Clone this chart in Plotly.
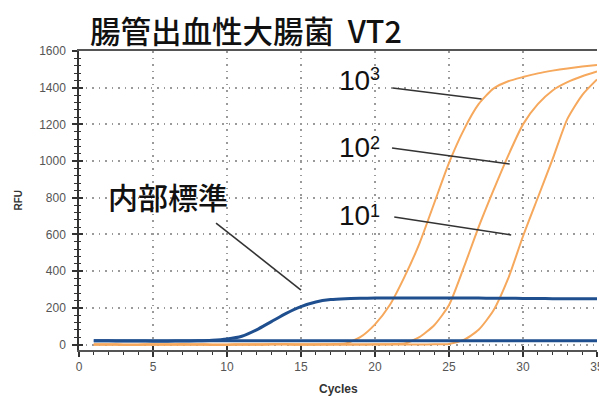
import plotly.graph_objects as go

cycles = list(range(1, 36))

# RFU values per cycle
internal_std = [20, 20, 19, 19, 18, 18, 19, 20, 23, 30, 45, 80, 125, 170, 207, 232, 245, 250,
                252, 253, 253, 253, 254, 254, 254, 253, 253, 252, 252, 251, 251, 250, 250, 249, 249]
negative = [21, 21, 21, 21, 21, 21, 21, 21, 21, 21, 21, 21, 21, 21, 21, 21, 21, 21,
             21, 21, 21, 21, 21, 21, 21, 21, 21, 21, 21, 21, 21, 21, 21, 21, 21]
copies_1e3 = [0, 0, -1, -1, 0, 0, 1, 0, -1, -1, 0, 0, 1, 1, 0, 0, 2, 5,
              40, 110, 215, 370, 550, 770, 990, 1170, 1310, 1395, 1435, 1458, 1478, 1493, 1505, 1515, 1524]
copies_1e2 = [0, 0, -1, -1, 0, 0, 1, 0, -1, -1, 0, 0, 1, 1, 0, 0, 0, 0,
              0, 1, 2, 5, 40, 105, 215, 420, 640, 840, 1030, 1200, 1310, 1385, 1430, 1462, 1488]
copies_1e1 = [0, 0, -1, -1, 0, 0, 1, 0, -1, -1, 0, 0, 1, 1, 0, 0, 0, 0,
              0, 0, 0, 0, 0, 1, 3, 25, 80, 185, 360, 590, 800, 1010, 1230, 1360, 1445]

x_ticks = [0, 5, 10, 15, 20, 25, 30, 35]
y_ticks = [0, 200, 400, 600, 800, 1000, 1200, 1400, 1600]

title_text = "腸管出血性大腸菌\u00a0\u00a0VT2"
label_internal = "内部標準"
labels_base = ["10", "10", "10"]
labels_exp = ["3", "2", "1"]

BLUE = "#1f4f8e"
ORANGE = "#f6a85c"
CJK = "Noto Sans CJK JP"
ARIAL = "Liberation Sans, Arial"

fig = go.Figure()
for ys in (copies_1e3, copies_1e2, copies_1e1):
    fig.add_trace(go.Scatter(x=cycles, y=ys, mode="lines", line=dict(color=ORANGE, width=2, shape="spline", smoothing=0.6),
                             showlegend=False, hoverinfo="skip"))
for ys in (negative, internal_std):
    fig.add_trace(go.Scatter(x=cycles, y=ys, mode="lines", line=dict(color=BLUE, width=3, shape="spline", smoothing=0.6),
                             showlegend=False, hoverinfo="skip"))

# invisible trace on overlay axes for the inner tick halves
fig.add_trace(go.Scatter(x=[0], y=[0], xaxis="x2", yaxis="y2", mode="markers",
                         marker=dict(opacity=0), showlegend=False, hoverinfo="skip"))

grid = dict(showgrid=True, gridcolor="#9a9a9a", gridwidth=1.5, griddash="1.5px,5px")
tickfont = dict(family=ARIAL, size=12, color="#555555")

# page body has an 8px margin, so the figure is sized to fit the window without scrolling
fig.update_layout(
    width=599, height=389,
    margin=dict(l=71, r=10, t=43, b=47),
    paper_bgcolor="white", plot_bgcolor="white",
    xaxis=dict(range=[0, 35], tickvals=x_ticks, ticktext=[str(v) for v in x_ticks],
               ticks="outside", ticklen=5, tickwidth=1.5, tickcolor="#333",
               minor=dict(dtick=1, ticks="outside", ticklen=3, tickcolor="#333", tickwidth=1),
               showline=True, linecolor="#555", linewidth=1.5, mirror=True, zeroline=False,
               tickfont=tickfont, automargin=False, ticklabeloverflow="allow",
               **grid),
    yaxis=dict(range=[-30, 1600], tickvals=y_ticks, ticktext=[str(v) for v in y_ticks],
               ticks="outside", ticklen=5, tickwidth=1.5, tickcolor="#333",
               minor=dict(dtick=40, tick0=0, ticks="outside", ticklen=3, tickcolor="#333", tickwidth=1),
               showline=True, linecolor="#333", linewidth=1.5, zeroline=False,
               tickfont=tickfont, automargin=False, ticklabelstandoff=4, ticklabeloverflow="allow",
               **grid),
    xaxis2=dict(overlaying="x", range=[0, 35], tickvals=x_ticks, showticklabels=False, ticks="inside",
                ticklen=4, tickwidth=1.5, tickcolor="#333", showgrid=False, zeroline=False,
                side="bottom", anchor="y2", automargin=False),
    yaxis2=dict(overlaying="y", range=[-30, 1600], tickvals=y_ticks, showticklabels=False, ticks="inside",
                ticklen=4, tickwidth=1.5, tickcolor="#333", showgrid=False, zeroline=False,
                minor=dict(dtick=40, tick0=0, ticks="inside", ticklen=2, tickcolor="#333", tickwidth=1),
                anchor="x2", automargin=False),
)

# axis titles
fig.add_annotation(text="<b>RFU</b>", xref="paper", yref="paper", x=0, y=0.5, xshift=-61,
                   textangle=-90, showarrow=False, xanchor="center", yanchor="middle",
                   font=dict(family=ARIAL, size=10, color="#333"))
fig.add_annotation(text="<b>Cycles</b>", xref="paper", yref="paper", x=0.5, y=0, yshift=-39,
                   showarrow=False, xanchor="center", yanchor="middle",
                   font=dict(family=ARIAL, size=12, color="#333"))

# title
fig.add_annotation(text=title_text, xref="paper", yref="paper", x=0.0, y=1.0, xshift=9, yshift=21,
                   xanchor="left", yanchor="middle", showarrow=False,
                   font=dict(family=CJK, size=30.5, color="#111", weight=500))

# labels
fig.add_annotation(text=label_internal, x=1.85, y=812, xanchor="left", yanchor="middle", showarrow=False,
                   font=dict(family=CJK, size=30, color="#111", weight=500))
base_y = [1437, 1072, 701]
exp_y = [1472, 1096, 726]
for b, e, by, ey in zip(labels_base, labels_exp, base_y, exp_y):
    fig.add_annotation(text=b, x=17.45, y=by, xanchor="left", yanchor="middle", showarrow=False,
                       font=dict(family=ARIAL, size=28, color="#111"))
    fig.add_annotation(text=e, x=19.5, y=ey, xanchor="left", yanchor="middle", showarrow=False,
                       font=dict(family=ARIAL, size=18, color="#111"))

# leader lines
leaders = [((21.2, 1398), (27.2, 1338)), ((21.15, 1071), (29.1, 984)),
           ((21.3, 695), (29.2, 597)), ((9.26, 662), (15.0, 297))]
for (x0, y0), (x1, y1) in leaders:
    fig.add_shape(type="line", x0=x0, y0=y0, x1=x1, y1=y1, xref="x", yref="y",
                  line=dict(color="#333", width=1.6))

fig.write_html("out.html")
